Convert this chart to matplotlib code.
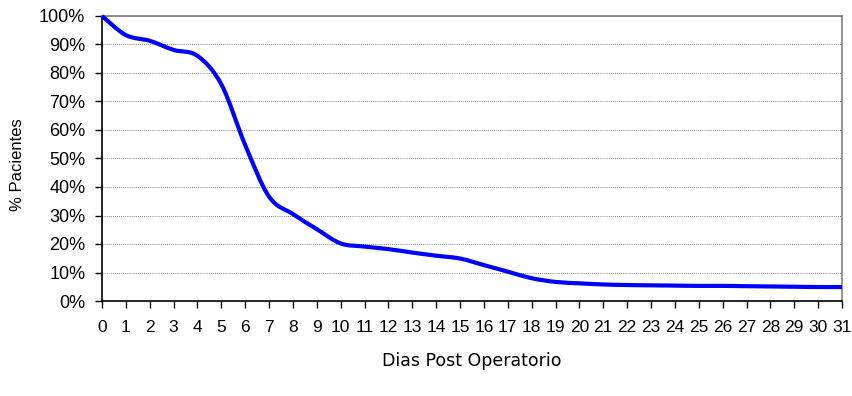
import numpy as np
import matplotlib.pyplot as plt
from matplotlib.path import Path
from matplotlib.patches import PathPatch
from matplotlib.ticker import FuncFormatter

# Share of patients remaining, by post-operative day
dias = list(range(0, 32))
pacientes = [100, 93.3, 91.3, 88.1, 86, 76, 54.7, 36.6, 30.5, 25.2, 20.2, 19.1, 18.2, 17, 15.9, 14.9,
             12.6, 10.3, 8, 6.7, 6.2, 5.8, 5.6, 5.5, 5.4, 5.3, 5.3, 5.2, 5.1, 5.0, 4.9, 4.9]


def smooth_path(x, y):
    # smoothed line like a spreadsheet chart: cubic Bezier through every point
    pts = np.column_stack([x, y]).astype(float)
    verts = [pts[0]]
    codes = [Path.MOVETO]
    n = len(pts)
    for i in range(n - 1):
        p0 = pts[max(i - 1, 0)]
        p1 = pts[i]
        p2 = pts[i + 1]
        p3 = pts[min(i + 2, n - 1)]
        c1 = p1 + (p2 - p0) / 6.0
        c2 = p2 - (p3 - p1) / 6.0
        verts += [c1, c2, p2]
        codes += [Path.CURVE4] * 3
    return Path(verts, codes)


fig = plt.figure(figsize=(8.53, 3.96), dpi=100)
ax = fig.add_axes([102 / 853, 1 - 301 / 396, 740 / 853, 285 / 396])

ax.add_patch(PathPatch(smooth_path(dias, pacientes), facecolor='none', edgecolor='#0000ff',
                       lw=3, joinstyle='round', capstyle='butt', clip_on=False, zorder=3))

ax.set_xlim(0, 31)
ax.set_ylim(0, 100)
ax.set_xticks(dias)
ax.set_yticks(range(0, 101, 10))
ax.yaxis.set_major_formatter(FuncFormatter(lambda v, p: f"{int(v)}%"))

ax.grid(axis='y', color='#555555', linestyle=(0, (1, 1.5)), lw=0.6)
ax.set_axisbelow(True)

for s in ('top', 'right'):
    ax.spines[s].set_color('#808080')
    ax.spines[s].set_linewidth(1.2)
for s in ('left', 'bottom'):
    ax.spines[s].set_color('black')
    ax.spines[s].set_linewidth(1.2)

ax.tick_params(axis='x', direction='out', length=5, width=1, pad=9, labelsize=12.5)
ax.tick_params(axis='y', direction='out', length=5, width=1, pad=7, labelsize=13)
for lbl in ax.get_xticklabels() + ax.get_yticklabels():
    lbl.set_family('Liberation Sans')

fig.text(18 / 853, 1 - 165 / 396, '% Pacientes', family='Liberation Sans', fontsize=12,
         rotation=90, ha='center', va='center')
fig.text(472 / 853, 1 - 361 / 396, 'Dias Post Operatorio',
         family='DejaVu Sans', fontsize=12.5, ha='center', va='center')

fig.savefig('out.png', dpi=100, facecolor='white')
